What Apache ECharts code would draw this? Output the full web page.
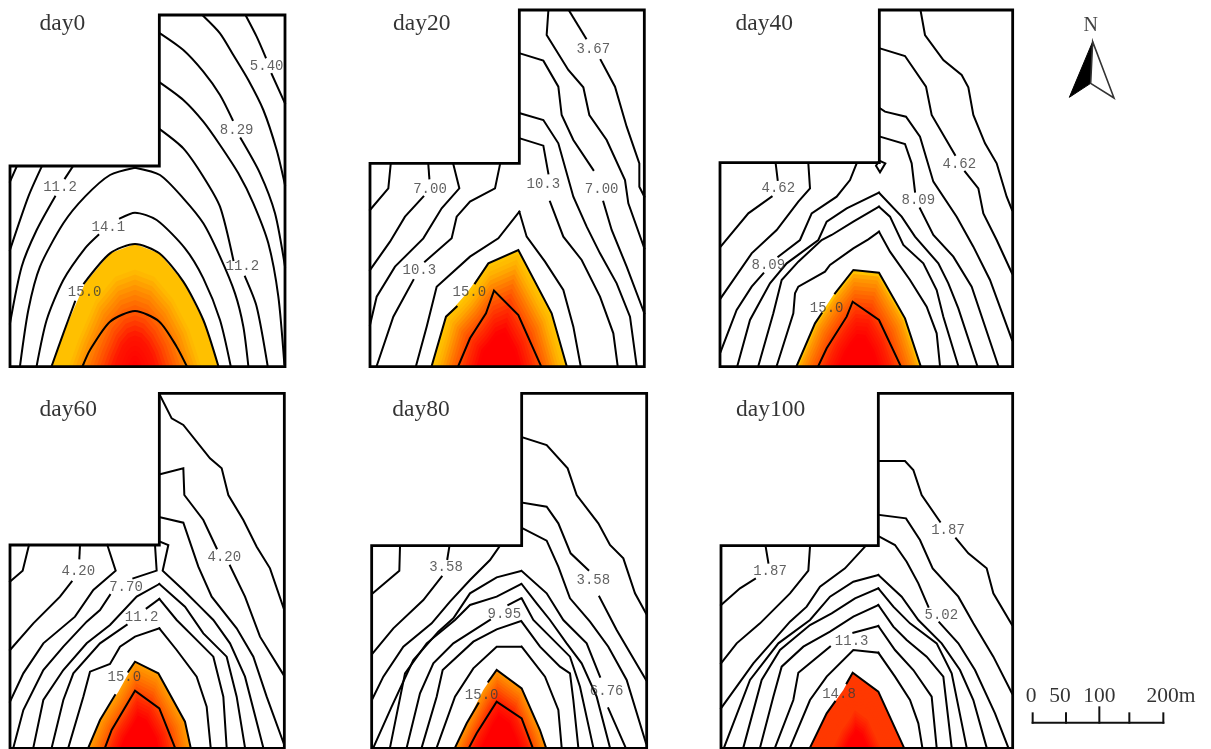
<!DOCTYPE html>
<html><head><meta charset="utf-8">
<style>html,body{margin:0;padding:0;background:#fff}#c{width:1211px;height:749px}</style>
<script src="https://cdn.jsdelivr.net/npm/echarts@6/dist/echarts.min.js"></script>
</head><body><div id="c"></div>
<script>
// All coordinates are map units, one set per panel.
const titles = ['day0','day20','day40','day60','day80','day100'];
const titlePos = [[187,70],[185,70],[163,70],[205,89],[183,89],[182,89]];

const day0Boundary = [[30,1100],[30,498],[478,498],[478,45],[855,45],[855,1100],[30,1100]];
const day0Fill = [[155,1098],[190,1000],[255,850],[330,760],[405,732],[478,760],[550,845],[610,960],[655,1098]];
const day0Contours = [
 [[738,48],[770,110],[797,172]], [[815,222],[855,310]],
 [[610,48],[660,100],[700,165],[745,240],[790,330],[830,450],[855,555]],
 [[480,100],[550,150],[610,215],[660,285],[698,360]], [[722,415],[780,520],[825,640],[855,800]],
 [[480,248],[550,300],[610,365],[660,435],[715,520],[760,610],[805,730],[835,890],[853,1092]],
 [[480,388],[550,445],[610,530],[660,620],[700,780]], [[735,830],[770,920],[803,1098]],
 [[405,503],[480,525],[550,595],[610,670],[660,770],[705,880],[730,980],[745,1098]],
 [[405,503],[330,525],[255,590],[190,670],[120,800],[85,930],[60,1098]],
 [[360,655],[405,638],[470,660],[555,745],[610,835],[660,960],[692,1098]],
 [[295,705],[255,745],[190,840],[140,960],[110,1098]],
 [[50,500],[30,545]], [[125,500],[85,590],[30,750]],
 [[218,500],[195,535]], [[165,590],[110,690],[65,800],[30,970]],
 [[155,1098],[190,1000],[225,905]], [[252,850],[330,760],[405,732],[478,760],[550,845],[610,960],[655,1098]],
 [[248,1098],[270,1050],[330,965],[405,933],[478,965],[530,1040],[560,1098]]
];
const day0Labels = [[800,200,'5.40'],[710,390,'8.29'],[180,563,'11.2'],[325,682,'14.1'],[727,800,'11.2'],[254,877,'15.0']];

const day20Boundary = [[30,1100],[30,490],[478,490],[478,30],[853,30],[853,1100],[30,1100]];
const day20Fill = [[215,1098],[258,950],[320,880],[385,790],[475,750],[575,940],[620,1098]];
const day20Contours = [
 [[628,33],[678,115]], [[722,180],[765,260],[800,380],[838,490],[838,560],[853,590]],
 [[565,33],[560,105],[625,210],[670,262],[688,345],[740,420],[795,540],[805,610],[853,745]],
 [[480,160],[550,182],[595,260],[605,345],[640,420],[700,510]], [[730,605],[755,690],[800,800],[853,940]],
 [[480,340],[550,360],[595,430],[640,590],[680,680],[720,760],[770,850],[810,950],[830,1098]],
 [[480,415],[550,437],[565,520]], [[570,605],[610,710],[665,780],[720,890],[760,1000],[773,1098]],
 [[478,635],[500,710],[555,785],[610,870],[640,980],[662,1098]],
 [[478,635],[415,715],[330,770],[230,860],[200,980],[168,1098]],
 [[215,1098],[258,950],[290,920]], [[345,850],[385,790],[475,750],[575,940],[620,1098]],
 [[295,1098],[330,1015],[378,940],[402,872],[475,945],[543,1098]],
 [[92,493],[85,565],[30,630]],
 [[205,493],[208,535]], [[190,590],[135,650],[90,725],[30,810]],
 [[280,493],[298,565],[245,625],[190,715],[105,800],[50,890],[30,975]],
 [[420,493],[405,565],[330,605],[290,650],[275,715],[195,785]], [[160,840],[100,950],[50,1098]]
];
const day20Labels = [[700,147,'3.67'],[210,567,'7.00'],[550,553,'10.3'],[725,567,'7.00'],[178,812,'10.3'],[328,878,'15.0']];

const day40Boundary = [[30,1100],[30,488],[508,488],[508,30],[908,30],[908,1100],[30,1100]];
const day40Fill = [[260,1098],[315,970],[370,885],[430,810],[507,818],[585,955],[632,1098]];
const day40Contours = [
 [[508,482],[526,490],[510,517],[498,497],[508,482]],
 [[632,33],[645,105],[700,180],[755,225],[775,262],[790,345],[825,430],[860,490],[890,590],[906,630]],
 [[510,145],[585,168],[648,260],[665,345],[735,465]], [[765,515],[805,565],[820,640],[860,720],[906,820]],
 [[510,325],[525,335],[588,350],[630,410],[670,545],[740,650],[790,740],[840,840],[906,1020]],
 [[510,410],[585,432],[605,490],[615,575]], [[630,625],[670,705],[730,770],[785,860],[865,1098]],
 [[507,578],[575,650],[615,710],[685,790],[715,850],[745,925],[802,1098]],
 [[507,620],[540,650],[580,735],[640,790],[680,870],[700,950],[745,1098]],
 [[507,695],[540,755],[600,840],[650,920],[680,1000],[690,1098]],
 [[507,578],[410,625],[350,665],[325,720],[230,790],[180,850],[120,960],[82,1098]],
 [[507,620],[430,665],[365,705],[335,720],[265,785],[215,840],[190,940],[145,1098]],
 [[507,695],[475,718],[430,745],[360,795],[345,815],[265,860],[255,880],[250,940],[200,1098]],
 [[197,490],[203,540]], [[185,590],[115,640],[32,740]],
 [[295,490],[300,565],[265,605],[200,690],[125,760],[32,895]],
 [[440,490],[420,540],[380,590],[305,640],[270,720],[205,770]], [[160,820],[125,860],[80,930],[32,1055]],
 [[260,1098],[315,970],[335,940]], [[375,880],[430,810],[507,818],[585,955],[632,1098]],
 [[325,1098],[350,1045],[410,950],[428,905],[507,960],[572,1098]]
];
const day40Labels = [[205,566,'4.62'],[748,493,'4.62'],[625,600,'8.09'],[175,795,'8.09'],[350,925,'15.0']];

const day60Boundary = [[30,1105],[30,495],[478,495],[478,40],[853,40],[853,1105],[30,1105]];
const day60Fill = [[265,1103],[300,1020],[355,935],[405,845],[475,880],[555,1025],[572,1103]];
const day60Contours = [
 [[478,42],[515,115],[550,135],[630,235],[665,265],[685,345],[730,420],[770,500],[810,565],[851,685]],
 [[480,283],[550,265],[553,345],[610,420],[650,505]], [[690,557],[735,650],[780,770],[851,885]],
 [[480,412],[550,428],[595,560],[635,650],[710,745],[760,830],[800,950],[851,1090]],
 [[480,485],[505,495],[488,572],[550,630],[600,680],[640,720],[690,790],[735,890],[790,1103]],
 [[465,495],[470,572],[400,595]], [[330,645],[300,690],[260,725],[190,800],[130,870],[70,990],[40,1103]],
 [[87,495],[68,572],[30,605]],
 [[240,495],[238,535]], [[215,605],[180,650],[100,730],[30,810]],
 [[322,495],[347,572],[280,630],[225,710],[130,790],[70,880],[30,965]],
 [[478,612],[410,650],[330,735],[260,790],[190,870],[130,960],[100,1103]],
 [[478,612],[555,680],[610,760],[680,830],[710,950],[735,1103]],
 [[478,657],[440,685]], [[380,735],[300,790],[220,880],[190,960],[155,1103]],
 [[478,657],[530,720],[580,770],[640,830],[670,950],[680,1103]],
 [[478,745],[405,770],[360,800],[330,852],[270,875],[250,950],[205,1103]],
 [[478,745],[530,810],[590,890],[620,980],[632,1103]],
 [[265,1103],[300,1020],[345,945]], [[385,875],[405,845],[475,880],[555,1025],[572,1103]],
 [[315,1103],[335,1050],[405,932],[478,985],[525,1103]]
];
const day60Labels = [[235,573,'4.20'],[673,533,'4.20'],[378,623,'7.70'],[425,712,'11.2'],[373,893,'15.0']];

const day80Boundary = [[35,1105],[35,497],[485,497],[485,40],[860,40],[860,1105],[35,1105]];
const day80Fill = [[285,1103],[320,1030],[370,930],[410,870],[485,925],[540,1050],[558,1103]];
const day80Contours = [
 [[488,172],[560,195],[623,265],[650,345],[715,430],[750,495],[790,535],[825,640],[858,700]],
 [[488,368],[560,380],[595,430],[632,520],[685,570]], [[718,650],[770,750],[858,900]],
 [[488,445],[560,482],[595,560],[630,655],[690,725],[745,800],[800,900],[858,1090]],
 [[120,500],[118,572],[38,640]],
 [[268,500],[262,537]], [[245,590],[190,660],[100,745],[38,820]],
 [[418,500],[390,540],[330,600],[270,665],[215,730],[130,800],[70,890],[38,955]],
 [[483,573],[410,592],[330,640],[280,715],[235,755],[160,840],[95,980],[40,1103]],
 [[485,573],[560,640],[610,720],[680,790],[720,890]], [[745,985],[797,1103]],
 [[483,612],[410,650],[330,675],[285,720],[200,790],[135,880],[90,1103]],
 [[485,612],[530,670],[570,720],[620,790],[665,850],[710,950],[750,1103]],
 [[483,655],[445,675]], [[390,720],[280,790],[220,850],[180,940],[140,1103]],
 [[485,655],[520,720],[570,770],[630,830],[660,920],[700,1103]],
 [[483,723],[410,748],[340,785],[248,870],[230,950],[185,1103]],
 [[485,725],[540,800],[600,860],[630,880],[640,960],[655,1103]],
 [[483,800],[410,800],[340,865],[285,950],[230,1103]],
 [[485,800],[555,890],[595,990],[605,1103]],
 [[285,1103],[320,1030],[355,970]], [[385,905],[410,870],[485,925],[540,1050],[558,1103]],
 [[327,1103],[350,1060],[410,965],[485,1015],[518,1103]]
];
const day80Labels = [[258,562,'3.58'],[700,602,'3.58'],[433,703,'9.95'],[740,933,'6.76'],[365,945,'15.0']];

const day100Boundary = [[33,1105],[33,497],[505,497],[505,40],[908,40],[908,1105],[33,1105]];
const day100Fill = [[300,1103],[350,1000],[400,930],[428,878],[505,935],[582,1103]];
const day100Contours = [
 [[508,243],[585,243],[610,270],[635,345],[690,425]], [[738,475],[775,520],[830,565],[850,640],[906,735]],
 [[508,405],[588,415],[630,480],[668,565],[745,650],[790,730],[850,830],[906,940]],
 [[508,470],[555,495],[590,545],[625,610],[655,680]], [[688,727],[745,790],[795,870],[855,1000],[895,1103]],
 [[167,500],[175,548]], [[135,597],[90,625],[33,675]],
 [[300,500],[295,572],[240,640],[150,730],[80,790],[33,850]],
 [[465,500],[405,565],[330,620],[290,680],[240,725],[130,850],[33,985]],
 [[505,585],[430,605],[360,650],[300,720],[205,790],[120,900],[42,1103]],
 [[505,585],[575,650],[625,720],[695,790],[750,870],[790,960],[830,1103]],
 [[505,625],[435,655],[365,700],[300,735],[210,810],[155,900],[100,1103]],
 [[505,625],[550,680],[600,730],[680,790],[725,880],[770,1103]],
 [[505,675],[430,710],[360,755],[280,800],[215,860],[190,950],[150,1103]],
 [[505,675],[550,740],[590,780],[650,830],[700,890],[725,1103]],
 [[505,738],[430,758]], [[360,800],[265,878],[250,960],[195,1103]],
 [[505,738],[555,810],[610,870],[665,950],[680,1103]],
 [[505,818],[430,810],[350,890],[300,960],[240,1103]],
 [[505,818],[555,890],[600,960],[625,1030],[637,1103]],
 [[300,1103],[350,1000],[375,965]], [[410,910],[428,878],[505,935],[582,1103]]
];
const day100Labels = [[180,573,'1.87'],[714,450,'1.87'],[694,705,'5.02'],[425,783,'11.3'],[387,942,'14.8']];

const boundaries = [day0Boundary,day20Boundary,day40Boundary,day60Boundary,day80Boundary,day100Boundary];
const fills = [day0Fill,day20Fill,day40Fill,day60Fill,day80Fill,day100Fill];
const contours = [day0Contours,day20Contours,day40Contours,day60Contours,day80Contours,day100Contours];
const valueLabels = [day0Labels,day20Labels,day40Labels,day60Labels,day80Labels,day100Labels];

// colour ramps: share of the way from the centre (0) to the 15.0 contour (1)
const ramps = [
 [[0,'#ff0000'],[.25,'#ff1500'],[.42,'#ff5000'],[.62,'#ff8c00'],[.8,'#ffc000'],[1,'#ffc000']],
 [[0,'#ff0000'],[.3,'#ff0000'],[.5,'#ff3000'],[.7,'#ff7000'],[.88,'#ffb000'],[1,'#ffc800']],
 [[0,'#ff0000'],[.3,'#ff0000'],[.5,'#ff2000'],[.75,'#ff6800'],[.93,'#ffa000'],[1,'#ffd000']],
 [[0,'#ff0000'],[.35,'#ff0000'],[.55,'#ff2800'],[.8,'#ff7000'],[1,'#ffa000']],
 [[0,'#ff0000'],[.4,'#ff0000'],[.6,'#ff2000'],[.8,'#ff6000'],[1,'#ff9800']],
 [[0,'#ff0000'],[.22,'#ff0000'],[.52,'#ff3800'],[1,'#ff3800']]
];

const arrowDark = [[218,125],[148,292],[212,250]];
const arrowLight = [[218,125],[212,250],[282,294]];
const northLabel = [[212,77,'N']];
const scaleTickX = [38,138,238,328,430];
const scaleTickTop = [130,130,112,130,130];
const scaleBaseY = 158;
const scaleLabels = [[33,79,'0'],[120,79,'50'],[238,79,'100'],[453,79,'200m']];

// layout: pixel frame of each panel's map extent
const frames = [
 {left:0,top:0,width:300,height:375},{left:360,top:0,width:300,height:375},{left:710,top:0,width:320,height:375},
 {left:0,top:380,width:300,height:369},{left:360,top:380,width:300,height:369},{left:710,top:380,width:320,height:369},
 {left:1020,top:0,width:191,height:120},{left:1020,top:670,width:191,height:79}
];
const grid = frames.map(f=>({...f,containLabel:false}));
const xAxis = frames.map((f,i)=>({gridIndex:i,type:'value',min:0,max:f.width*3,show:false}));
const yAxis = frames.map((f,i)=>({gridIndex:i,type:'value',min:0,max:f.height*3,inverse:true,show:false}));
const series = [];
const on = i=>({xAxisIndex:i,yAxisIndex:i});

function hex(c){return [1,3,5].map(k=>parseInt(c.substr(k,2),16));}
function rampColor(r,t){
  for(let k=1;k<r.length;k++){ if(t<=r[k][0]){
    const a=hex(r[k-1][1]),b=hex(r[k][1]),u=(t-r[k-1][0])/((r[k][0]-r[k-1][0])||1);
    return 'rgb('+a.map((v,j)=>Math.round(v+(b[j]-v)*u)).join(',')+')';
  }}
  return r[r.length-1][1];
}
function polygonSeries(i,pts,style,z){
  series.push({type:'custom',...on(i),coordinateSystem:'cartesian2d',clip:false,silent:true,z,data:[[0,0]],
    renderItem:(p,api)=>({type:'polygon',shape:{points:pts.map(q=>api.coord(q))},style})});
}
const BANDS = 24;
fills.forEach((poly,i)=>{
  const base=poly[0][1], cx=(poly[0][0]+poly[poly.length-1][0])/2;
  series.push({type:'custom',...on(i),coordinateSystem:'cartesian2d',clip:false,silent:true,z:1,data:[[0,0]],
    renderItem:(p,api)=>{
      const children=[];
      for(let b=BANDS;b>=1;b--){
        const t=b/BANDS;
        children.push({type:'polygon',
          shape:{points:poly.map(q=>api.coord([cx+(q[0]-cx)*t, base+(q[1]-base)*t]))},
          style:{fill:rampColor(ramps[i],t-0.5/BANDS)}});
      }
      return {type:'group',children};
    }});
});
function lineSeries(i,data,width,z,color,smooth){
  series.push({type:'line',...on(i),data,showSymbol:false,symbol:'none',clip:false,silent:true,z,smooth:smooth||false,
    lineStyle:{color:color||'#000',width,join:'miter',cap:'square'}});
}
contours.forEach((set,i)=>set.forEach(c=>lineSeries(i,c,2,2,'#000',i===0?0.25:false)));
boundaries.forEach((b,i)=>lineSeries(i,b,2.8,3));
function textSeries(i,data,font){
  series.push({type:'scatter',...on(i),data,symbolSize:1,clip:false,silent:true,z:5,
    itemStyle:{color:'rgba(0,0,0,0)'},
    label:{show:true,position:'inside',formatter:p=>p.value[2],...font}});
}
const valueFont={fontFamily:'Liberation Mono',fontSize:14,color:'#3a3a3a'};
valueLabels.forEach((l,i)=>textSeries(i,l,valueFont));
titlePos.forEach((p,i)=>textSeries(i,[[p[0],p[1],titles[i]]],{fontFamily:'Liberation Serif',fontSize:23.5,color:'#000'}));
polygonSeries(6,arrowDark,{fill:'#000',stroke:'#000',lineWidth:1},2);
polygonSeries(6,arrowLight,{fill:'#fff',stroke:'#333',lineWidth:1.6},2);
textSeries(6,northLabel,{fontFamily:'Liberation Serif',fontSize:20,color:'#111'});
lineSeries(7,[[scaleTickX[0],scaleBaseY],[scaleTickX[4],scaleBaseY]],2,2,'#111');
scaleTickX.forEach((x,k)=>lineSeries(7,[[x,scaleTickTop[k]],[x,scaleBaseY]],2,2,'#111'));
textSeries(7,scaleLabels,{fontFamily:'Liberation Serif',fontSize:21.5,color:'#000'});

const chart = echarts.init(document.getElementById('c'),null,{renderer:'canvas'});
chart.setOption({animation:false,backgroundColor:'#fff',grid,xAxis,yAxis,series,tooltip:{show:false},legend:{show:false}});
</script></body></html>
